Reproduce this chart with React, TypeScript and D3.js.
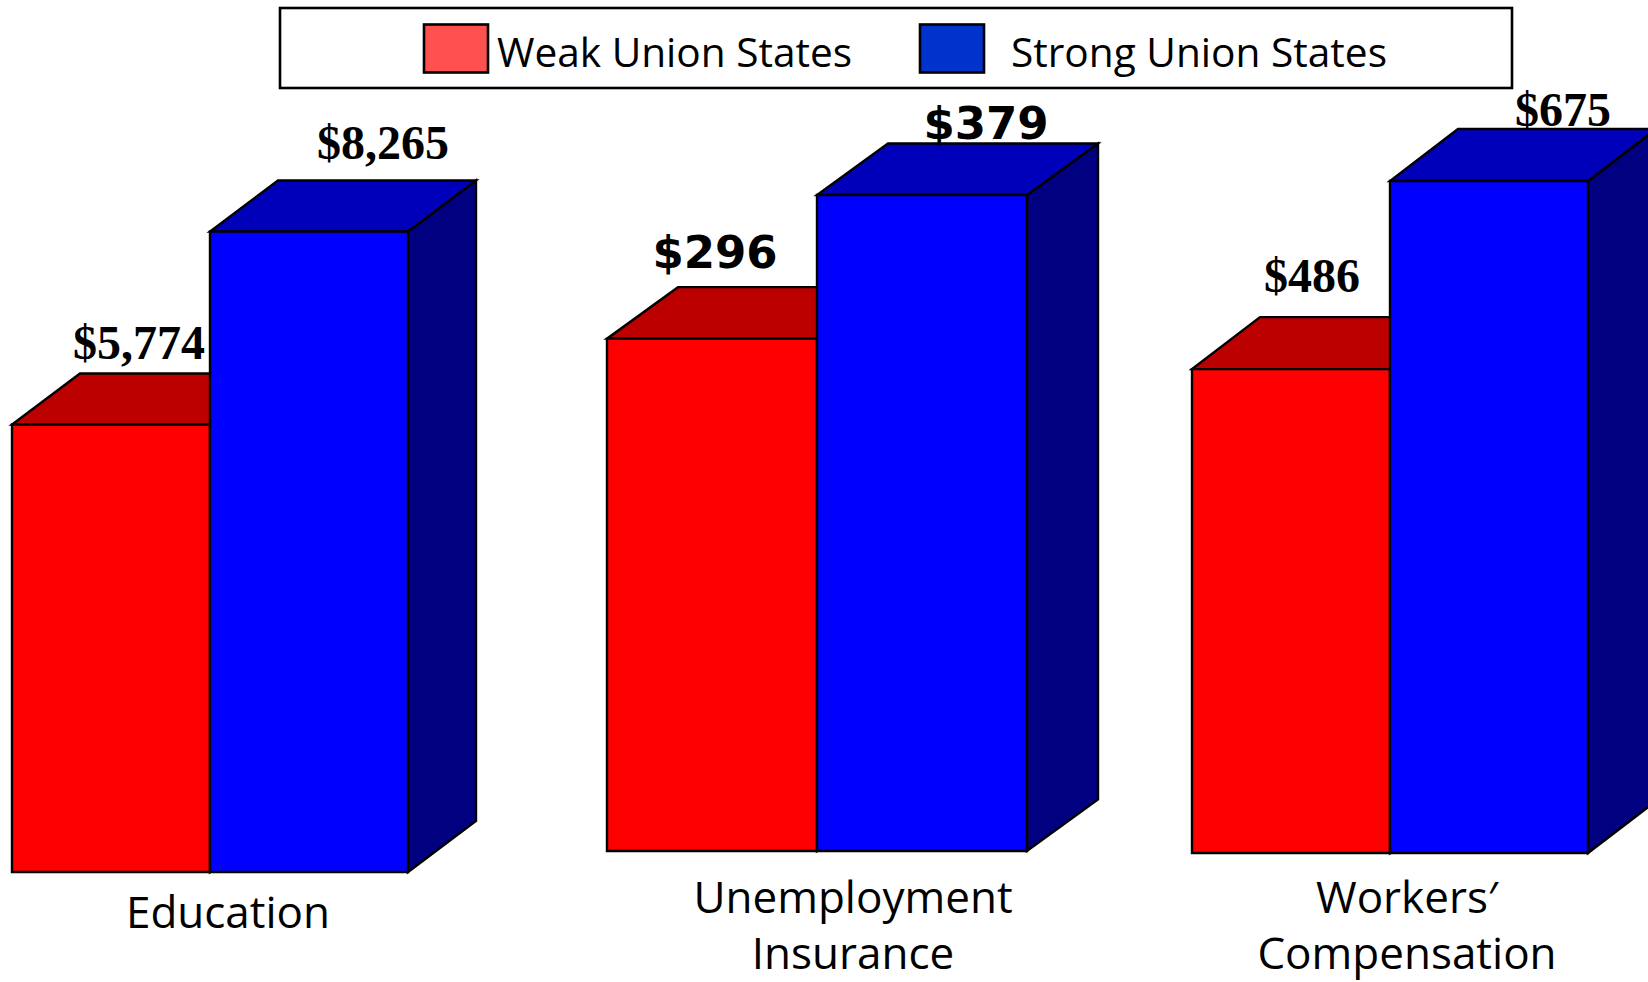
import React from "react";
import * as d3 from "d3";

const categories = ["Education", "Unemployment Insurance", "Workers' Compensation"];
const seriesNames = ["Weak Union States", "Strong Union States"];
const weakValues = [5774, 296, 486];
const strongValues = [8265, 379, 675];
const valueLabels = [
  ["$5,774", "$8,265"],
  ["$296", "$379"],
  ["$486", "$675"],
];
const categoryLines = [["Education"], ["Unemployment", "Insurance"], ["Workers\u2032", "Compensation"]];

// layout of each independently scaled panel
const panels = [
  { left: 12, right: 408, base: 872, top: 231.5, dx: 68, dy: 51, labelFont: "serif", labelY: [358.5, 159], labelX: [139, 383], catX: 228, catY: [928] },
  { left: 607, right: 1027, base: 851, top: 195, dx: 71, dy: 51.5, labelFont: "sans", labelY: [268, 138.5], labelX: [715, 986], catX: 853, catY: [913, 969] },
  { left: 1192, right: 1588, base: 853, top: 181, dx: 68, dy: 52, labelFont: "serif", labelY: [292, 126], labelX: [1312, 1563], catX: 1407, catY: [913, 969] },
];
const faceColors = [
  { front: "#FF0000", top: "#BC0000", side: "#800000" },
  { front: "#0000FF", top: "#0000BB", side: "#000080" },
];
const legendSwatches = ["#FF5050", "#0033CC"];
const legendBox = { x: 280, y: 8, w: 1232, h: 80 };
const legendItems = [
  { x: 424, tx: 497, tl: 355 },
  { x: 920, tx: 1011, tl: 376 },
];
const UI_FONT = "'Open Sans', 'Noto Sans', sans-serif";

const poly = d3.line<[number, number]>().curve(d3.curveLinearClosed);

export default function App() {
  return (
    <svg width={1648} height={982} style={{ position: "absolute", left: 0, top: 0, background: "#fff", display: "block" }}>
      <rect x={legendBox.x} y={legendBox.y} width={legendBox.w} height={legendBox.h} fill="#fff" stroke="#000" strokeWidth={2.6} />
      {legendItems.map((it, i) => (
        <g key={i}>
          <rect x={it.x} y={24.5} width={64} height={48} fill={legendSwatches[i]} stroke="#000" strokeWidth={2.6} />
          <text x={it.tx} y={67} fontFamily={UI_FONT} fontSize={40} textLength={it.tl} lengthAdjust="spacingAndGlyphs" fill="#000">{seriesNames[i]}</text>
        </g>
      ))}
      {categories.map((cat, c) => {
        const p = panels[c];
        const vals = [weakValues[c], strongValues[c]];
        const y = d3.scaleLinear().domain([0, d3.max(vals)!]).range([p.base, p.top]);
        const x = d3.scaleBand<number>().domain([0, 1]).range([p.left, p.right]);
        return (
          <g key={cat}>
            {vals.map((v, s) => {
              const x0 = x(s)!;
              const x1 = x0 + x.bandwidth();
              const yt = y(v);
              const col = faceColors[s];
              const top: [number, number][] = [[x0, yt], [x1, yt], [x1 + p.dx, yt - p.dy], [x0 + p.dx, yt - p.dy]];
              const side: [number, number][] = [[x1, yt], [x1 + p.dx, yt - p.dy], [x1 + p.dx, p.base - p.dy], [x1, p.base]];
              const front: [number, number][] = [[x0, yt], [x1, yt], [x1, p.base], [x0, p.base]];
              return (
                <g key={s} stroke="#000" strokeWidth={2.4} strokeLinejoin="miter">
                  <path d={poly(side)!} fill={col.side} />
                  <path d={poly(top)!} fill={col.top} />
                  <path d={poly(front)!} fill={col.front} />
                </g>
              );
            })}
            {valueLabels[c].map((t, s) => (
              <text
                key={t}
                x={p.labelX[s]}
                y={p.labelY[s]}
                textAnchor="middle"
                fontWeight="bold"
                fontFamily={p.labelFont === "serif" ? "'Liberation Serif', serif" : "'DejaVu Sans', sans-serif"}
                fontSize={p.labelFont === "serif" ? 48 : 45}
                fill="#000"
              >
                {t}
              </text>
            ))}
            {categoryLines[c].map((l, i) => (
              <text key={l} x={p.catX} y={p.catY[i]} textAnchor="middle" fontFamily={UI_FONT} fontSize={44} fill="#000">{l}</text>
            ))}
          </g>
        );
      })}
    </svg>
  );
}
